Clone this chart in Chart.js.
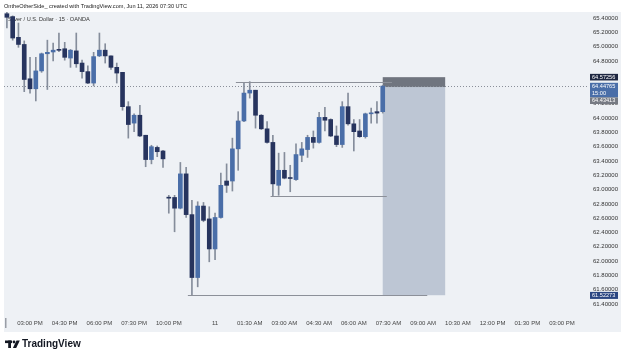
<!DOCTYPE html>
<html>
<head>
<meta charset="utf-8">
<script src="https://cdn.jsdelivr.net/npm/chart.js@4.4.0/dist/chart.umd.min.js"></script>
<style>
  html, body { margin: 0; padding: 0; background: #fff; }
  canvas { display: block; }
</style>
</head>
<body>
<canvas id="silverChart" width="625" height="358"></canvas>
<script>
// 15 min candles, XAG/USD (OANDA), from 02:00 PM Jun 10 to 07:15 AM Jun 11
const opens  = [65.46, 65.42, 65.13, 65.03, 64.55, 64.41, 64.66, 64.90, 64.925, 64.95,
                64.97, 64.84, 64.94, 64.77, 64.65, 64.49, 64.87, 64.95, 64.87, 64.71,
                64.64, 64.16, 63.93, 64.04, 63.76, 63.42, 63.59, 63.54, 62.89, 62.89,
                62.74, 63.22, 62.65, 61.77, 62.77, 62.59, 62.17, 62.61, 63.12, 63.12,
                63.57, 63.96, 64.35, 64.39, 64.04, 63.85, 63.66, 63.06, 63.27, 63.16,
                63.14, 63.48, 63.56, 63.73, 63.66, 64.01, 63.98, 63.75, 63.63, 64.16,
                63.92, 63.82, 63.74, 64.06, 64.09, 64.09];
const highs  = [65.48, 65.43, 65.33, 65.08, 64.85, 64.85, 64.91, 65.09, 65.05, 65.19,
                65.06, 64.96, 65.19, 64.81, 64.73, 64.92, 65.19, 65.04, 64.87, 64.77,
                64.64, 64.23, 64.06, 64.18, 63.76, 63.62, 63.61, 63.55, 62.92, 62.92,
                63.38, 63.31, 62.85, 62.83, 62.82, 62.76, 62.67, 63.23, 63.36, 63.72,
                64.09, 64.49, 64.51, 64.39, 64.05, 63.95, 63.76, 63.51, 63.52, 63.34,
                63.64, 63.66, 63.76, 63.82, 64.08, 64.15, 63.99, 63.89, 64.23, 64.35,
                63.98, 63.98, 64.07, 64.14, 64.23, 64.46];
const lows   = [65.26, 65.09, 64.99, 64.37, 64.35, 64.24, 64.64, 64.40, 64.80, 64.93,
                64.81, 64.71, 64.71, 64.56, 64.48, 64.45, 64.86, 64.77, 64.68, 64.49,
                64.11, 63.72, 63.81, 63.74, 63.32, 63.36, 63.46, 63.31, 62.67, 62.41,
                62.73, 62.61, 61.52273, 61.64, 62.55, 61.99, 62.02, 62.60, 62.96, 62.98,
                63.27, 63.95, 64.28, 63.86, 63.84, 63.65, 62.91, 62.92, 63.15, 62.97,
                63.13, 63.39, 63.45, 63.58, 63.65, 63.82, 63.74, 63.60, 63.59, 63.90,
                63.54, 63.73, 63.72, 63.93, 63.93, 64.07];
const closes = [65.41, 65.12, 65.03, 64.54, 64.41, 64.66, 64.90, 64.92, 64.95, 64.948,
                64.85, 64.95, 64.76, 64.65, 64.49, 64.86, 64.95, 64.87, 64.71, 64.63,
                64.16, 63.91, 64.04, 63.75, 63.42, 63.60, 63.53, 63.43, 62.88, 62.74,
                63.22, 62.65, 61.77, 62.77, 62.57, 62.17, 62.61, 63.06, 63.06, 63.57,
                63.96, 64.35, 64.39, 64.04, 63.85, 63.66, 63.08, 63.27, 63.16, 63.155,
                63.49, 63.57, 63.73, 63.66, 64.01, 63.97, 63.75, 63.63, 64.16, 63.92,
                63.81, 63.74, 64.06, 64.07, 64.07, 64.44765];

const timeTicks = ['03:00 PM', '04:30 PM', '06:00 PM', '07:30 PM', '10:00 PM', '11',
                   '01:30 AM', '03:00 AM', '04:30 AM', '06:00 AM', '07:30 AM', '09:00 AM',
                   '10:30 AM', '12:00 PM', '01:30 PM', '03:00 PM'];
const priceTicks = [65.4, 65.2, 65.0, 64.8, 64.6, 64.4, 64.2, 64.0, 63.8, 63.6, 63.4,
                    63.2, 63.0, 62.8, 62.6, 62.4, 62.2, 62.0, 61.8, 61.6, 61.4];
const hiddenTicks = [64.6, 64.4];

// drawings on the chart (prices and bar slots)
const lastPrice = 64.44765, countdown = '15:00';
const stopPrice = 64.57256, entryPrice = 64.43413, targetPrice = 61.52273;
const posFrom = 65, posTo = 75.8;
const resistance = { price: 64.51, from: 39.6, to: 66.6 };
const support = { price: 62.91, from: 45.6, to: 65.7 };
const lowLine = { price: 61.52273, from: 31.3, to: 72.7 };

// 15 min slots, market pauses 09:00 PM - 10:00 PM
const slots = [];
let m = 14 * 60;
while (slots.length < 101) {
  const d = m % 1440;
  if (d < 21 * 60 || d >= 22 * 60) {
    if (d === 0) slots.push('11');
    else {
      const h = Math.floor(d / 60), mm = d % 60;
      const h12 = h % 12 || 12;
      slots.push(String(h12).padStart(2, '0') + ':' + String(mm).padStart(2, '0') + (h < 12 ? ' AM' : ' PM'));
    }
  }
  m += 15;
}

const upColor = '#4a6ea8';
const downColor = '#27345e';
const wickColor = '#858d9b';
const FONT = 'Liberation Sans, Arial, sans-serif';

const bodies = opens.map((o, i) => [o, closes[i]]);
const wicks = lows.map((l, i) => [l, highs[i]]);
const bodyColors = opens.map((o, i) => closes[i] >= o ? upColor : downColor);

const decor = {
  id: 'decor',
  beforeDraw(chart) {
    const c = chart.ctx;
    c.save();
    c.fillStyle = '#ffffff';
    c.fillRect(0, 0, chart.width, chart.height);
    c.fillStyle = '#eef1f5';
    c.fillRect(4, 12, 617, 320);
    c.fillStyle = '#222';
    c.font = '5.6px ' + FONT;
    c.textBaseline = 'middle';
    c.fillText('OntheOtherSide_ created with TradingView.com, Jun 11, 2026 07:30 UTC', 4, 6);
    // left edge marker in time axis
    c.fillStyle = '#9a9ea6';
    c.fillRect(5, 318, 1.5, 10);
    // TradingView logo
    c.fillStyle = '#131722';
    c.fillRect(5, 340.5, 7, 2.6);
    c.fillRect(8.2, 340.5, 2.8, 7.5);
    c.beginPath();
    c.arc(14, 342, 1.4, 0, Math.PI * 2);
    c.fill();
    c.beginPath();
    c.moveTo(16.5, 340.5); c.lineTo(19.8, 340.5); c.lineTo(16.2, 348); c.lineTo(12.9, 348);
    c.closePath();
    c.fill();
    c.font = 'bold 10px ' + FONT;
    c.fillText('TradingView', 22, 344.5);
    c.restore();
  },
  beforeDatasetsDraw(chart) {
    const c = chart.ctx, x = chart.scales.x, y = chart.scales.y, a = chart.chartArea;
    c.save();
    c.fillStyle = '#333';
    c.font = '5.6px ' + FONT;
    c.textBaseline = 'middle';
    c.fillText('Silver / U.S. Dollar \u00b7 15 \u00b7 OANDA', 8, 19);
    // position box
    const x0 = x.getPixelForValue(posFrom), x1 = x.getPixelForValue(posTo);
    c.fillStyle = '#bdc6d4';
    c.fillRect(x0, y.getPixelForValue(entryPrice), x1 - x0, y.getPixelForValue(targetPrice) - y.getPixelForValue(entryPrice));
    c.fillStyle = '#70757f';
    c.fillRect(x0, y.getPixelForValue(stopPrice), x1 - x0, y.getPixelForValue(entryPrice) - y.getPixelForValue(stopPrice));
    // last price dotted line
    c.strokeStyle = '#8a8f99';
    c.lineWidth = 1;
    c.setLineDash([1, 2]);
    const ly = Math.round(y.getPixelForValue(lastPrice)) + 0.5;
    c.beginPath(); c.moveTo(a.left, ly); c.lineTo(a.right, ly); c.stroke();
    c.restore();
  },
  afterDatasetsDraw(chart) {
    const c = chart.ctx, x = chart.scales.x, y = chart.scales.y;
    c.save();
    c.strokeStyle = '#8c9099';
    c.lineWidth = 1.2;
    for (const l of [resistance, support, lowLine]) {
      const py = Math.round(y.getPixelForValue(l.price)) + 0.5;
      c.beginPath();
      c.moveTo(x.getPixelForValue(l.from), py);
      c.lineTo(x.getPixelForValue(l.to), py);
      c.stroke();
    }
    c.restore();
  },
  afterDraw(chart) {
    const c = chart.ctx, y = chart.scales.y;
    c.save();
    c.font = '5.6px ' + FONT;
    c.textBaseline = 'middle';
    const tag = (cy, h, bg, lines) => {
      c.fillStyle = bg;
      c.fillRect(590, cy - 3.3, 28, h);
      c.fillStyle = '#ffffff';
      lines.forEach((t, k) => c.fillText(t, 592, cy + k * 7));
    };
    tag(y.getPixelForValue(stopPrice), 6.6, '#1e2741', [stopPrice.toFixed(5)]);
    tag(y.getPixelForValue(lastPrice), 14.6, '#4a6ea8', [lastPrice.toFixed(5), countdown]);
    tag(y.getPixelForValue(lastPrice) + 14.6, 6.6, '#767a83', [entryPrice.toFixed(5)]);
    tag(y.getPixelForValue(targetPrice), 7, '#2a4681', [targetPrice.toFixed(5)]);
    c.restore();
  }
};

new Chart(document.getElementById('silverChart'), {
  type: 'bar',
  data: {
    labels: slots,
    datasets: [
      { data: bodies, backgroundColor: bodyColors, barThickness: 4, grouped: false, minBarLength: 1 },
      { data: wicks, backgroundColor: wickColor, barThickness: 1, grouped: false }
    ]
  },
  options: {
    responsive: false,
    devicePixelRatio: 1,
    animation: false,
    layout: { padding: { left: 4, top: 12, right: 0, bottom: 25 } },
    plugins: { legend: { display: false }, tooltip: { enabled: false } },
    scales: {
      x: {
        type: 'category',
        offset: true,
        grid: { display: false, drawTicks: false },
        border: { display: false },
        afterFit: s => { s.height = 18; },
        ticks: {
          autoSkip: false,
          maxRotation: 0,
          padding: 5,
          color: '#444',
          font: { size: 6, family: FONT },
          callback: (v, i) => timeTicks.includes(slots[i]) ? slots[i] : ''
        }
      },
      y: {
        position: 'right',
        min: 61.246,
        max: 65.484,
        grid: { display: false, drawTicks: false },
        border: { display: false },
        afterBuildTicks: s => { s.ticks = priceTicks.map(v => ({ value: v })); },
        afterFit: s => { s.width = 37; },
        ticks: {
          padding: 5,
          color: '#333',
          font: { size: 6, family: FONT },
          callback: v => hiddenTicks.some(h => Math.abs(h - v) < 1e-6) ? '' : Number(v).toFixed(5)
        }
      }
    }
  },
  plugins: [decor]
});
</script>
</body>
</html>
